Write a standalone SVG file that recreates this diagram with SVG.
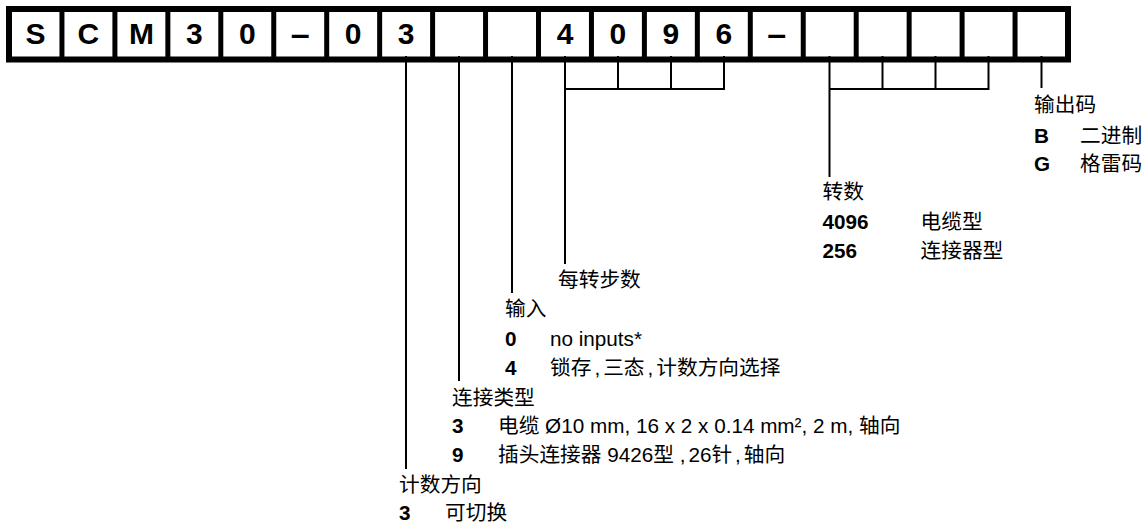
<svg xmlns="http://www.w3.org/2000/svg" width="1145" height="524" viewBox="0 0 1145 524">
<style>
.frame{fill:#fff;stroke:#000;stroke-width:6}
.div{stroke:#000;stroke-width:5}
.cell{font-family:"Liberation Sans",Arial,sans-serif;font-weight:bold;font-size:30px;fill:#000;text-anchor:middle}
.dash{font-size:34px}
.conn{stroke:#000;stroke-width:2;fill:none}
.t{font-family:"Liberation Sans",Arial,"Noto Sans CJK SC",sans-serif;font-size:20.7px;fill:#000}
.b{font-weight:bold}
</style>
<rect width="1145" height="524" fill="#fff"/>
<g id="code">
<rect class="frame" x="9" y="9" width="1059" height="50.5"/>
<g class="div">
<line x1="61.95" y1="9" x2="61.95" y2="59.5"/>
<line x1="114.9" y1="9" x2="114.9" y2="59.5"/>
<line x1="167.85" y1="9" x2="167.85" y2="59.5"/>
<line x1="220.8" y1="9" x2="220.8" y2="59.5"/>
<line x1="273.75" y1="9" x2="273.75" y2="59.5"/>
<line x1="326.7" y1="9" x2="326.7" y2="59.5"/>
<line x1="379.65" y1="9" x2="379.65" y2="59.5"/>
<line x1="432.6" y1="9" x2="432.6" y2="59.5"/>
<line x1="485.55" y1="9" x2="485.55" y2="59.5"/>
<line x1="538.5" y1="9" x2="538.5" y2="59.5"/>
<line x1="591.45" y1="9" x2="591.45" y2="59.5"/>
<line x1="644.4" y1="9" x2="644.4" y2="59.5"/>
<line x1="697.35" y1="9" x2="697.35" y2="59.5"/>
<line x1="750.3" y1="9" x2="750.3" y2="59.5"/>
<line x1="803.25" y1="9" x2="803.25" y2="59.5"/>
<line x1="856.2" y1="9" x2="856.2" y2="59.5"/>
<line x1="909.15" y1="9" x2="909.15" y2="59.5"/>
<line x1="962.1" y1="9" x2="962.1" y2="59.5"/>
<line x1="1015.05" y1="9" x2="1015.05" y2="59.5"/>
</g>
<text class="cell" x="35.5" y="44">S</text>
<text class="cell" x="88.4" y="44">C</text>
<text class="cell" x="141.4" y="44">M</text>
<text class="cell" x="194.3" y="44">3</text>
<text class="cell" x="247.3" y="44">0</text>
<text class="cell dash" x="300.2" y="45">–</text>
<text class="cell" x="353.2" y="44">0</text>
<text class="cell" x="406.1" y="44">3</text>
<text class="cell" x="565" y="44">4</text>
<text class="cell" x="617.9" y="44">0</text>
<text class="cell" x="670.9" y="44">9</text>
<text class="cell" x="723.8" y="44">6</text>
<text class="cell dash" x="776.8" y="45">–</text>
</g>
<g id="connectors" class="conn">
<line x1="406" y1="56" x2="406" y2="469"/>
<line x1="459" y1="56" x2="459" y2="381"/>
<line x1="512" y1="56" x2="512" y2="293"/>
<path d="M565 56V264M618 56V89M671 56V89M724 56V89M564 89H725"/>
<path d="M829.5 56V177M882.5 56V89M935.5 56V89M988.5 56V89M828.5 89H989.5"/>
<line x1="1041.5" y1="56" x2="1041.5" y2="88"/>
</g>
<g id="label-output" class="t">
<text x="1034" y="112">输出码</text>
<text x="1034" y="143" class="b">B</text><text x="1080" y="143">二进制</text>
<text x="1034" y="171" class="b">G</text><text x="1080" y="171">格雷码</text>
</g>
<g id="label-turns" class="t">
<text x="822.5" y="199">转数</text>
<text x="822.5" y="229" class="b">4096</text><text x="920.5" y="229">电缆型</text>
<text x="822.5" y="258" class="b">256</text><text x="920.5" y="258">连接器型</text>
</g>
<g id="label-steps" class="t">
<text x="558" y="287">每转步数</text>
</g>
<g id="label-input" class="t">
<text x="505" y="316">输入</text>
<text x="505" y="346" class="b">0</text><text x="550" y="346">no inputs*</text>
<text x="505" y="375" class="b">4</text><text x="550" y="375">锁存<tspan dx="3">,</tspan><tspan dx="3">三态</tspan><tspan dx="3">,</tspan><tspan dx="3">计数方向选择</tspan></text>
</g>
<g id="label-connection" class="t">
<text x="452" y="405">连接类型</text>
<text x="452" y="433" class="b">3</text><text x="498" y="433">电缆 Ø10 mm, 16 x 2 x 0.14 mm², 2 m, 轴向</text>
<text x="452" y="462" class="b">9</text><text x="498" y="462">插头连接器 9426型 <tspan>,</tspan><tspan dx="3">26针</tspan><tspan dx="3">,</tspan><tspan dx="3">轴向</tspan></text>
</g>
<g id="label-direction" class="t">
<text x="399" y="492">计数方向</text>
<text x="399" y="520" class="b">3</text><text x="445" y="520">可切换</text>
</g>
</svg>
